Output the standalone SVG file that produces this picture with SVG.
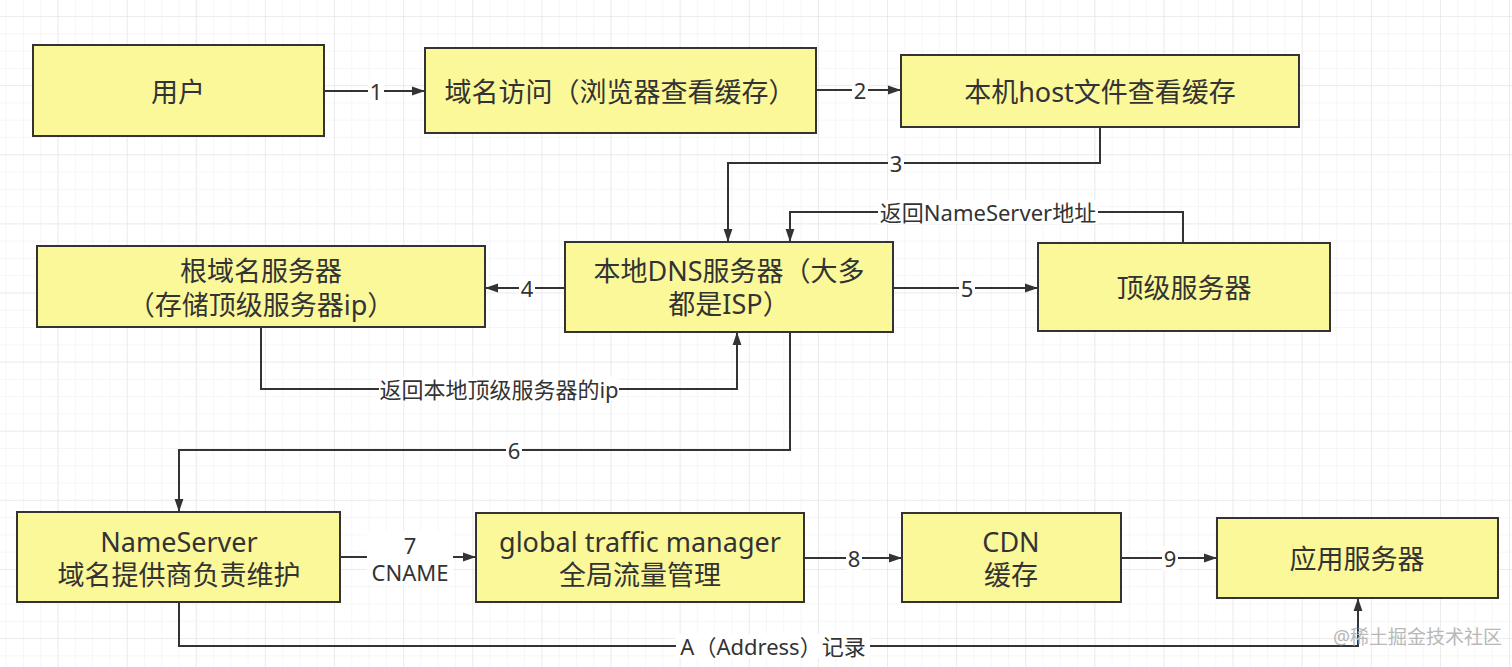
<svg xmlns="http://www.w3.org/2000/svg" width="1512" height="667" viewBox="0 0 1512 667">
<defs>
<pattern id="minor" x="23" y="16" width="17.28" height="17.28" patternUnits="userSpaceOnUse">
<path d="M0,0 V17.28 M0,0 H17.28" fill="none" stroke="#eeeeee" stroke-width="1"/>
</pattern>
<pattern id="major" x="57.56" y="16" width="69.12" height="69.12" patternUnits="userSpaceOnUse">
<path d="M0,0 V69.12 M0,0 H69.12" fill="none" stroke="#e1e1e1" stroke-width="1"/>
</pattern>
<marker id="arr" markerUnits="userSpaceOnUse" markerWidth="14" markerHeight="10" refX="13" refY="5" orient="auto">
<path d="M0,0.6 L13,5 L0,9.4 Z" fill="#333"/>
</marker>
<style>
.box{fill:#fbf89a;stroke:#333;stroke-width:2}
.bt{font-family:'Noto Sans','Noto Sans CJK SC',sans-serif;font-size:27px;fill:#333;text-anchor:middle;dominant-baseline:central}
.edge{fill:none;stroke:#333;stroke-width:2;marker-end:url(#arr)}
.lbl{font-family:'Noto Sans','Noto Sans CJK SC',sans-serif;font-size:22px;fill:#333;text-anchor:middle;dominant-baseline:central}
.lbg{fill:#ffffff}
</style>
</defs>
<rect x="0" y="0" width="1512" height="667" fill="#ffffff"/>
<rect x="0" y="0" width="1512" height="667" fill="url(#minor)"/>
<rect x="0" y="0" width="1512" height="667" fill="url(#major)"/>

<g id="connectors">
<path class="edge" d="M324,91 H425"/>
<rect class="lbg" x="368" y="79" width="16" height="24"/><text class="lbl" x="376" y="91">1</text>
<path class="edge" d="M816,90 H901"/>
<rect class="lbg" x="852" y="78" width="16" height="24"/><text class="lbl" x="860" y="90">2</text>
<path class="edge" d="M1100,127 V163 H728 V242"/>
<rect class="lbg" x="888" y="151" width="16" height="24"/><text class="lbl" x="896" y="163">3</text>
<path class="edge" d="M1183,243 V212 H790 V242"/>
<rect class="lbg" x="878" y="200" width="220" height="24"/><text class="lbl" x="988" y="212">返回NameServer地址</text>
<path class="edge" d="M565,288 H485"/>
<rect class="lbg" x="519" y="276" width="16" height="24"/><text class="lbl" x="527" y="288">4</text>
<path class="edge" d="M261,327 V389 H737 V332"/>
<rect class="lbg" x="379" y="377" width="240" height="24"/><text class="lbl" x="499" y="389">返回本地顶级服务器的ip</text>
<path class="edge" d="M893,288 H1038"/>
<rect class="lbg" x="959" y="276" width="16" height="24"/><text class="lbl" x="967" y="288">5</text>
<path class="edge" d="M790,332 V450 H179 V512"/>
<rect class="lbg" x="506" y="438" width="16" height="24"/><text class="lbl" x="514" y="450">6</text>
<path class="edge" d="M340,557 H476"/>
<rect class="lbg" x="367" y="531" width="86" height="54"/>
<text class="lbl"><tspan x="410" y="545">7</tspan><tspan x="410" y="572">CNAME</tspan></text>
<path class="edge" d="M804,558 H902"/>
<rect class="lbg" x="846" y="546" width="16" height="24"/><text class="lbl" x="854" y="558">8</text>
<path class="edge" d="M1121,558 H1217"/>
<rect class="lbg" x="1162" y="546" width="16" height="24"/><text class="lbl" x="1170" y="558">9</text>
<path class="edge" d="M179,602 V646 H1358 V598"/>
<rect class="lbg" x="676" y="634" width="194" height="24"/><text class="lbl" x="773" y="646">A（Address）记录</text>
</g>

<g id="n-user"><rect class="box" x="33" y="45" width="291" height="91"/><text class="bt" x="178" y="91">用户</text></g>
<g id="n-browser"><rect class="box" x="425" y="48" width="391" height="85"/><text class="bt" x="620" y="91">域名访问（浏览器查看缓存）</text></g>
<g id="n-host"><rect class="box" x="901" y="55" width="398" height="72"/><text class="bt" x="1100" y="91">本机host文件查看缓存</text></g>
<g id="n-root"><rect class="box" x="37" y="246" width="448" height="81"/><text class="bt"><tspan x="261" y="270">根域名服务器</tspan><tspan x="261" y="304">（存储顶级服务器ip）</tspan></text></g>
<g id="n-dns"><rect class="box" x="565" y="242" width="328" height="90"/><text class="bt"><tspan x="729" y="270">本地DNS服务器（大多</tspan><tspan x="729" y="303">都是ISP）</tspan></text></g>
<g id="n-tld"><rect class="box" x="1038" y="243" width="292" height="88"/><text class="bt" x="1184" y="287">顶级服务器</text></g>
<g id="n-ns"><rect class="box" x="17" y="512" width="323" height="90"/><text class="bt"><tspan x="179" y="541">NameServer</tspan><tspan x="179" y="574">域名提供商负责维护</tspan></text></g>
<g id="n-gtm"><rect class="box" x="476" y="513" width="328" height="89"/><text class="bt"><tspan x="640" y="541">global traffic manager</tspan><tspan x="640" y="574">全局流量管理</tspan></text></g>
<g id="n-cdn"><rect class="box" x="902" y="513" width="219" height="89"/><text class="bt"><tspan x="1011" y="541">CDN</tspan><tspan x="1011" y="574">缓存</tspan></text></g>
<g id="n-app"><rect class="box" x="1217" y="518" width="281" height="80"/><text class="bt" x="1357" y="558">应用服务器</text></g>

<text x="1333" y="644" font-family="'Noto Sans','Noto Sans CJK SC',sans-serif" font-size="19" fill="#b8b8b8">@稀土掘金技术社区</text>
</svg>
